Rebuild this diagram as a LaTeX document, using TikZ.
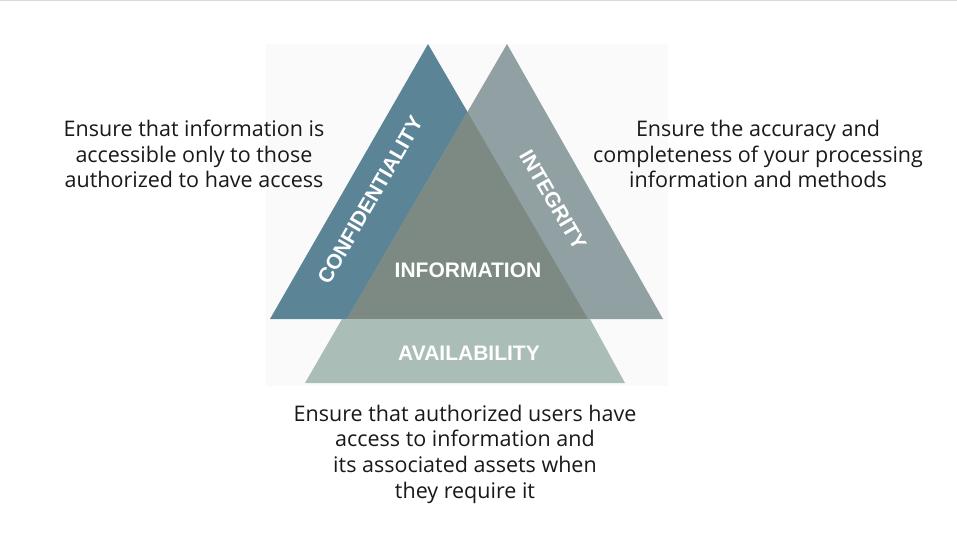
\documentclass[tikz,border=0pt]{standalone}
\usepackage{fontspec}
\setmainfont{Open Sans}
\newfontfamily\labelfont{Liberation Sans}
\begin{document}
\begin{tikzpicture}[x=1pt,y=-1pt,
  desc/.style={align=center,font=\fontsize{21.5}{25.7}\selectfont,text=black!90,inner sep=0pt},
  tag/.style={font=\labelfont\bfseries\fontsize{21}{24}\selectfont,text=white,inner sep=0pt}]
\definecolor{confc}{RGB}{91,133,150}
\definecolor{integc}{RGB}{145,160,163}
\definecolor{infoc}{RGB}{125,138,131}
\definecolor{availc}{RGB}{170,190,183}
\definecolor{panel}{RGB}{250,250,250}
\useasboundingbox (0,0) rectangle (957,544);
\fill[white] (0,0) rectangle (957,544);
\draw[black!15,line width=1.2pt] (0,0.6) -- (957,0.6);
% light panel behind the triad
\fill[panel] (266,44) rectangle (668,386);
% the three pillars
\coordinate (cA) at (428,44);
\coordinate (cL) at (270,319);
\coordinate (cR) at (588,319);
\coordinate (iA) at (507,44);
\coordinate (iL) at (347,319);
\coordinate (iR) at (663,319);
\fill[confc] (cL) -- (cA) -- (cR) -- cycle;
\fill[integc] (iL) -- (iA) -- (iR) -- cycle;
% overlap of confidentiality and integrity
\fill[infoc] (iL) -- (467.5,112) -- (cR) -- cycle;
% availability band
\fill[availc] (342,319) -- (590,319) -- (625,383) -- (305,383) -- cycle;
% labels
\node[tag,rotate=60] (conf) at (370,200) {CONFIDENTIALITY};
\node[tag,rotate=-60] (integ) at (553,200) {INTEGRITY};
\node[tag] (info) at (468,270) {INFORMATION};
\node[tag] (avail) at (469,353) {AVAILABILITY};
% descriptions
\node[desc] (dconf) at (194,154) {Ensure that information is\\accessible only to those\\authorized to have access};
\node[desc] (dinteg) at (758,154) {Ensure the accuracy and\\completeness of your processing\\information and methods};
\node[desc] (davail) at (465,454) {Ensure that authorized users have\\access to information and\\its associated assets when\\they require it};
\end{tikzpicture}
\end{document}
